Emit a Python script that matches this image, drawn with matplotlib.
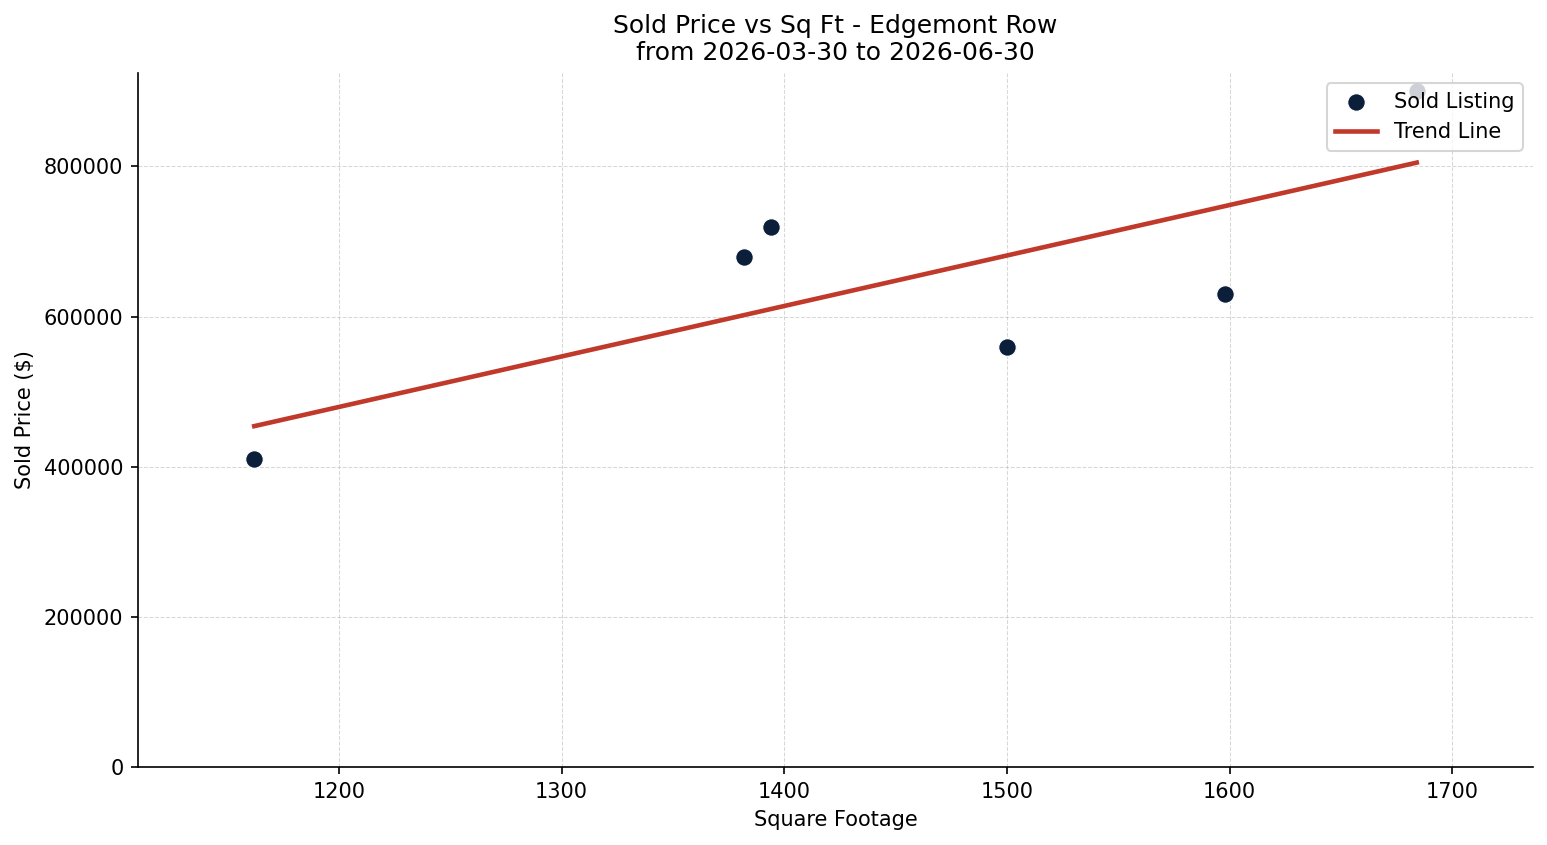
import numpy as np
import matplotlib
matplotlib.use("Agg")
import matplotlib.pyplot as plt

# sold listings: square footage vs sold price
sqft = [1162, 1382, 1394, 1500, 1598, 1684]
sold_price = [410000, 680000, 720000, 560000, 630000, 900000]

title = "Sold Price vs Sq Ft - Edgemont Row\nfrom 2026-03-30 to 2026-06-30"


def make_chart():
    fig, ax = plt.subplots(figsize=(1547 / 150, 845 / 150), dpi=150)

    ax.scatter(sqft, sold_price, s=72, color="#0b1f3a", edgecolors="white",
               linewidths=0.6, label="Sold Listing", zorder=3)

    # least squares trend line
    slope, intercept = np.polyfit(sqft, sold_price, 1)
    xs = np.array([min(sqft), max(sqft)])
    ax.plot(xs, slope * xs + intercept, color="#c0392b", linewidth=2.2,
            label="Trend Line", zorder=2)

    ax.margins(x=0.1)
    ax.set_ylim(bottom=0)

    ax.set_title(title, fontsize=12)
    ax.set_xlabel("Square Footage")
    ax.set_ylabel("Sold Price ($)")
    ax.ticklabel_format(axis="y", style="plain")

    ax.grid(True, linestyle="--", linewidth=0.5, alpha=0.5)
    ax.set_axisbelow(True)
    ax.spines["top"].set_visible(False)
    ax.spines["right"].set_visible(False)

    ax.legend(loc="upper right")

    fig.subplots_adjust(left=138 / 1547, right=1533 / 1547,
                        top=1 - 73 / 845, bottom=1 - 767 / 845)
    fig.savefig("out.png", dpi=150)
    plt.close(fig)


if __name__ == "__main__":
    make_chart()
